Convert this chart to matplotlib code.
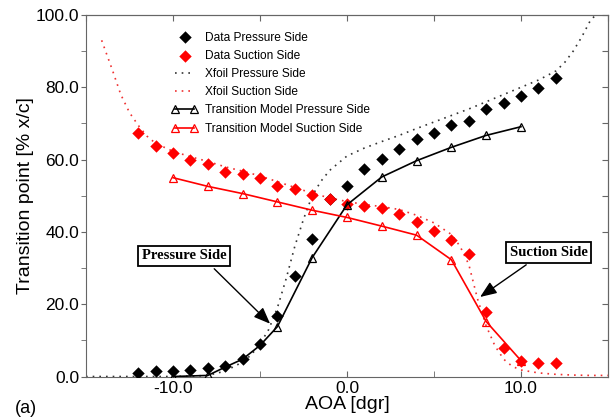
import matplotlib
matplotlib.use("Agg")
import matplotlib.pyplot as plt
from matplotlib.ticker import FormatStrFormatter, MultipleLocator

plt.rcParams['font.family'] = ['Liberation Sans', 'DejaVu Sans']
plt.rcParams['axes.unicode_minus'] = False

# measured transition locations, AOA -12..12 deg
aoa_data = list(range(-12, 13))
data_pressure = [0.9, 1.5, 1.4, 1.9, 2.4, 3.0, 4.9, 8.9, 16.8, 27.9, 37.9, 49.0, 52.8,
                 57.3, 60.2, 62.8, 65.8, 67.4, 69.7, 70.7, 73.9, 75.7, 77.6, 79.8, 82.7]
data_suction = [67.4, 63.7, 61.9, 59.8, 58.9, 56.7, 56.0, 54.8, 52.8, 51.9, 50.1, 49.1, 47.6,
                47.2, 46.7, 44.9, 42.7, 40.2, 37.7, 34.0, 17.8, 7.9, 4.4, 3.8, 3.8]

# xfoil predictions
xfoil_p_aoa = [-15, -14, -13, -12, -11, -10, -9, -8, -7, -6, -5.5, -5, -4.5, -4, -3.5, -3,
               -2.5, -2, -1.5, -1, -0.5, 0, 1, 2, 3, 4, 5, 6, 7, 8, 9, 10, 11, 12, 12.5,
               13, 13.5, 14, 14.3]
xfoil_pressure = [0, 0, 0, 0, 0, 0, 0.1, 0.3, 1.5, 4, 6, 9, 13, 19, 27, 36,
                  43.5, 50, 54, 57, 59, 61, 63.2, 65, 66.7, 68.6, 70.4, 72.2, 74, 76, 78, 80,
                  82, 84.5, 86.8, 90, 94, 98.6, 100]
xfoil_s_aoa = [-14.1, -13.5, -13, -12.5, -12, -11.5, -11, -10, -9, -8, -7, -6, -5, -4, -3,
               -2, -1, 0, 1, 2, 3, 4, 5, 6, 6.5, 7, 7.5, 8, 8.5, 9, 9.5, 10, 11, 12, 13, 14, 15]
xfoil_suction = [93, 85, 78, 73, 69.5, 66.5, 64.5, 62.3, 60.8, 59.5, 58, 56.8, 55.5, 53.9, 52.3,
                 50.7, 49.4, 48.4, 47.6, 47.0, 46.2, 44.6, 42.5, 39.3, 36, 31, 21.5, 14, 8.5,
                 4.8, 2.8, 1.8, 1.0, 0.6, 0.4, 0.3, 0.3]

# transition model
model_p_aoa = [-10, -8, -7, -6, -5, -4, -2, 0, 2, 4, 6, 8, 10]
model_pressure = [0.0, 0.3, 2.6, 4.8, 8.6, 13.8, 32.9, 47.5, 55.2, 59.7, 63.4, 66.7, 69.1]
model_p_marks = [0, 1, 5, 6, 7, 8, 9, 10, 11, 12]
model_s_aoa = [-10, -8, -6, -4, -2, 0, 2, 4, 6, 8, 10]
model_suction = [55.0, 52.6, 50.6, 48.3, 46.0, 44.0, 41.6, 39.1, 32.3, 15.2, 4.4]

RED = '#ff0000'
SPINE = '#666666'

fig = plt.figure(figsize=(6.16, 4.19), dpi=100)
ax = fig.add_axes([0.1396, 0.1014, 0.8474, 0.8628])

h_xp, = ax.plot(xfoil_p_aoa, xfoil_pressure, color='#333333', lw=1.2, ls=(0, (1, 3)), zorder=2)
h_xs, = ax.plot(xfoil_s_aoa, xfoil_suction, color='#f03030', lw=1.2, ls=(0, (1, 3)), zorder=2)
h_dp = ax.scatter(aoa_data, data_pressure, marker='D', s=40, color='black', lw=0, zorder=3)
h_ds = ax.scatter(aoa_data, data_suction, marker='D', s=40, color=RED, lw=0, zorder=3)
h_mp, = ax.plot(model_p_aoa, model_pressure, color='black', lw=1.2, marker='^', ms=6,
                mfc='none', mec='black', mew=0.9, markevery=model_p_marks, zorder=4)
h_ms, = ax.plot(model_s_aoa, model_suction, color=RED, lw=1.2, marker='^', ms=6,
                mfc='none', mec=RED, mew=0.9, zorder=4)

ax.set_xlim(-15, 15)
ax.set_ylim(0, 100)
ax.xaxis.set_major_locator(MultipleLocator(10))
ax.xaxis.set_minor_locator(MultipleLocator(5))
ax.yaxis.set_major_locator(MultipleLocator(20))
ax.yaxis.set_minor_locator(MultipleLocator(10))
ax.xaxis.set_major_formatter(FormatStrFormatter('%.1f'))
ax.yaxis.set_major_formatter(FormatStrFormatter('%.1f'))
ax.tick_params(axis='x', which='both', direction='in', length=4.5, color=SPINE,
               labelsize=12.5, pad=3)
ax.tick_params(axis='y', which='both', direction='out', length=3.3, color=SPINE,
               labelsize=12.5, pad=1.5)
for sp in ax.spines.values():
    sp.set_color(SPINE)

# ticks on the top and right edges point inwards
top = ax.secondary_xaxis('top')
top.xaxis.set_major_locator(MultipleLocator(5))
top.tick_params(direction='in', length=4.5, color=SPINE, labeltop=False)
top.spines['top'].set_color(SPINE)
right = ax.secondary_yaxis('right')
right.yaxis.set_major_locator(MultipleLocator(10))
right.tick_params(direction='in', length=4.5, color=SPINE, labelright=False)
right.spines['right'].set_color(SPINE)

ax.set_xlabel('AOA [dgr]', fontsize=14, labelpad=0)
ax.set_ylabel('Transition point [% x/c]', fontsize=14, labelpad=1)

ax.legend([h_dp, h_ds, h_xp, h_xs, h_mp, h_ms],
          ['Data Pressure Side', 'Data Suction Side', 'Xfoil Pressure Side',
           'Xfoil Suction Side', 'Transition Model Pressure Side',
           'Transition Model Suction Side'],
          loc='upper left', bbox_to_anchor=(0.164, 0.954), frameon=False, fontsize=8.6,
          handlelength=2.2, handletextpad=0.6, labelspacing=0.52, borderpad=0,
          borderaxespad=0, scatterpoints=1, numpoints=2)

box = dict(boxstyle='square,pad=0.25', fc='white', ec='black', lw=1.3)
arrow = dict(arrowstyle='-|>,head_length=1.0,head_width=0.4', color='black', lw=1.0,
             shrinkA=0, shrinkB=0)
ax.text(-9.35, 33.4, 'Pressure Side', family=['Liberation Serif'], weight='bold',
        fontsize=10.5, ha='center', va='center', bbox=box, zorder=6)
ax.annotate('', xy=(-4.42, 14.6), xytext=(-7.63, 29.8), arrowprops=arrow, zorder=6)
ax.text(11.59, 34.3, 'Suction Side', family=['Liberation Serif'], weight='bold',
        fontsize=10.5, ha='center', va='center', bbox=box, zorder=6)
ax.annotate('', xy=(7.65, 22.0), xytext=(10.3, 30.9), arrowprops=arrow, zorder=6)

fig.text(0.024, 0.004, '(a)', fontsize=13, va='bottom')

fig.savefig('out.png', dpi=100)
